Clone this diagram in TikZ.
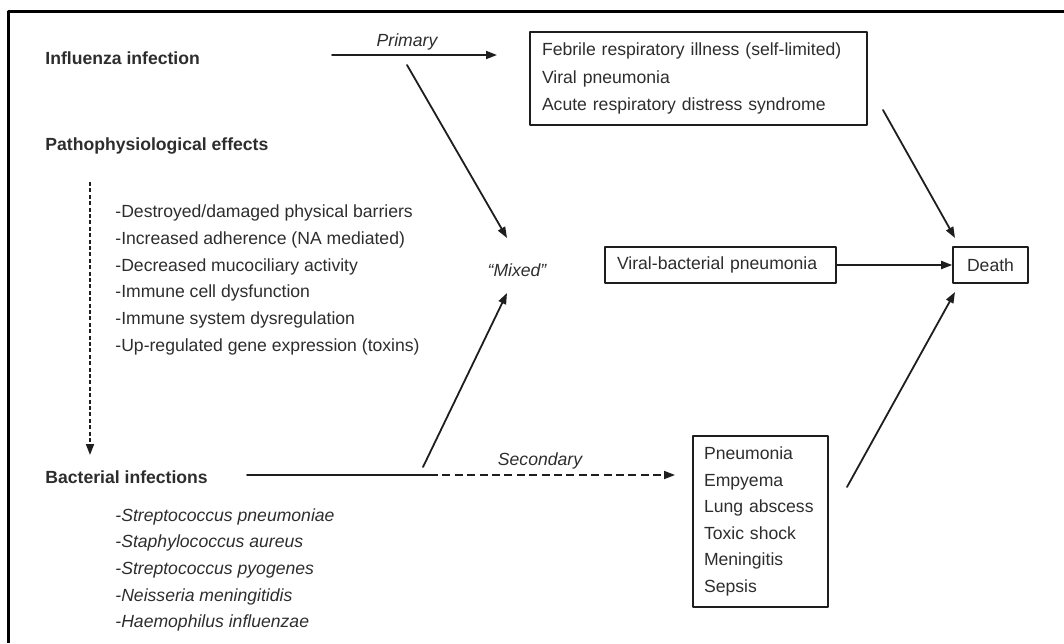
\documentclass[tikz,border=0pt]{standalone}
\usepackage{fontspec}
\setmainfont{Liberation Sans}
\usetikzlibrary{arrows.meta}
\definecolor{txtgray}{RGB}{45,45,45}
\definecolor{lngray}{RGB}{30,30,30}

\begin{document}
\begin{tikzpicture}[line cap=round,line join=round,>={Triangle[length=5.5pt,width=4pt]},x=0.5pt,y=-0.5pt,
  lbl/.style={inner sep=0pt,anchor=west,text=txtgray,align=left,font=\fontsize{8.8}{13.35}\selectfont},
  head/.style={lbl,font=\fontsize{8.8}{13.35}\selectfont\bfseries},
  bx/.style={draw=lngray,line width=0.8pt,text=txtgray,align=left,inner sep=0pt},
  conn/.style={->,draw=lngray,line width=0.9pt}]
\useasboundingbox (0,0) rectangle (1064,643);
% frame
\draw [line width=1.5pt,line cap=butt] (8,643) -- (8,11) -- (1064,11);
% left column
\node [head] (flu) at (45,58) {Influenza infection};
\node [head] (patho) at (45,146) {Pathophysiological effects};
\node [lbl] (effects) at (115,280) {-Destroyed/damaged physical barriers\\-Increased adherence (NA mediated)\\-Decreased mucociliary activity\\-Immune cell dysfunction\\-Immune system dysregulation\\-Up-regulated gene expression (toxins)};
\node [head] (bact) at (45,477) {Bacterial infections};
\node [lbl,font=\fontsize{8.8}{13.35}\selectfont\itshape] (species) at (115,570) {-Streptococcus pneumoniae\\-Staphylococcus aureus\\-Streptococcus pyogenes\\-Neisseria meningitidis\\-Haemophilus influenzae};
% middle and right
\node [lbl,anchor=center,font=\fontsize{8.8}{13.35}\selectfont\itshape] (prim) at (407,42) {Primary};
\node [lbl,anchor=center,font=\fontsize{8.8}{13.35}\selectfont\itshape] (sec) at (540,461) {Secondary};
\node [lbl,anchor=center,font=\fontsize{8.8}{13.35}\selectfont\itshape] (mixed) at (517,270) {``Mixed''};
\node [bx,font=\fontsize{8.8}{13.75}\selectfont,text width=156.5pt,inner xsep=6pt,minimum height=46.5pt] (res) at (698.5,78.5) {Febrile respiratory illness (self-limited)\\Viral pneumonia\\Acute respiratory distress syndrome};
\node [bx,font=\fontsize{8.8}{13.35}\selectfont,text width=103.5pt,inner xsep=6pt,minimum height=18pt] (vbp) at (720.5,265) {Viral-bacterial pneumonia};
\node [bx,font=\fontsize{8.8}{13.35}\selectfont,align=center,minimum width=37.5pt,minimum height=18pt] (death) at (990.5,265) {Death};
\node [bx,font=\fontsize{8.8}{13.3}\selectfont,text width=56.5pt,inner xsep=5.5pt,minimum height=85.5pt] (comp) at (760.5,521.5) {Pneumonia\\Empyema\\Lung abscess\\Toxic shock\\Meningitis\\Sepsis};
% free ends
\coordinate (primS) at (332,55);
\coordinate (primE) at (497,55);
\coordinate (fluD) at (407,65);
\coordinate (mixT) at (507,238);
\coordinate (bacD) at (423,467);
\coordinate (mixL) at (507,293);
\coordinate (effS) at (90,182);
\coordinate (effE) at (90,455);
\coordinate (bacS) at (247,475);
\coordinate (bacM) at (430,475);
\coordinate (bacE) at (675,475);
\coordinate (resD) at (883,110);
\coordinate (dthT) at (955,238);
\coordinate (compD) at (847,487);
\coordinate (dthB) at (955,292);
% connectors
\draw [conn] (primS) -- (primE);
\draw [conn] (fluD) -- (mixT);
\draw [conn] (bacD) -- (mixL);
\draw [conn,dash pattern=on 2pt off 1.2pt,line cap=butt] (effS) -- (effE);
\draw [draw=lngray,line width=0.9pt] (bacS) -- (bacM);
\draw [conn,dash pattern=on 4pt off 2.2pt,line cap=butt] (bacM) -- (bacE);
\draw [conn] (resD) -- (dthT);
\draw [conn] (vbp.east) -- (death.west);
\draw [conn] (compD) -- (dthB);
\end{tikzpicture}
\end{document}
